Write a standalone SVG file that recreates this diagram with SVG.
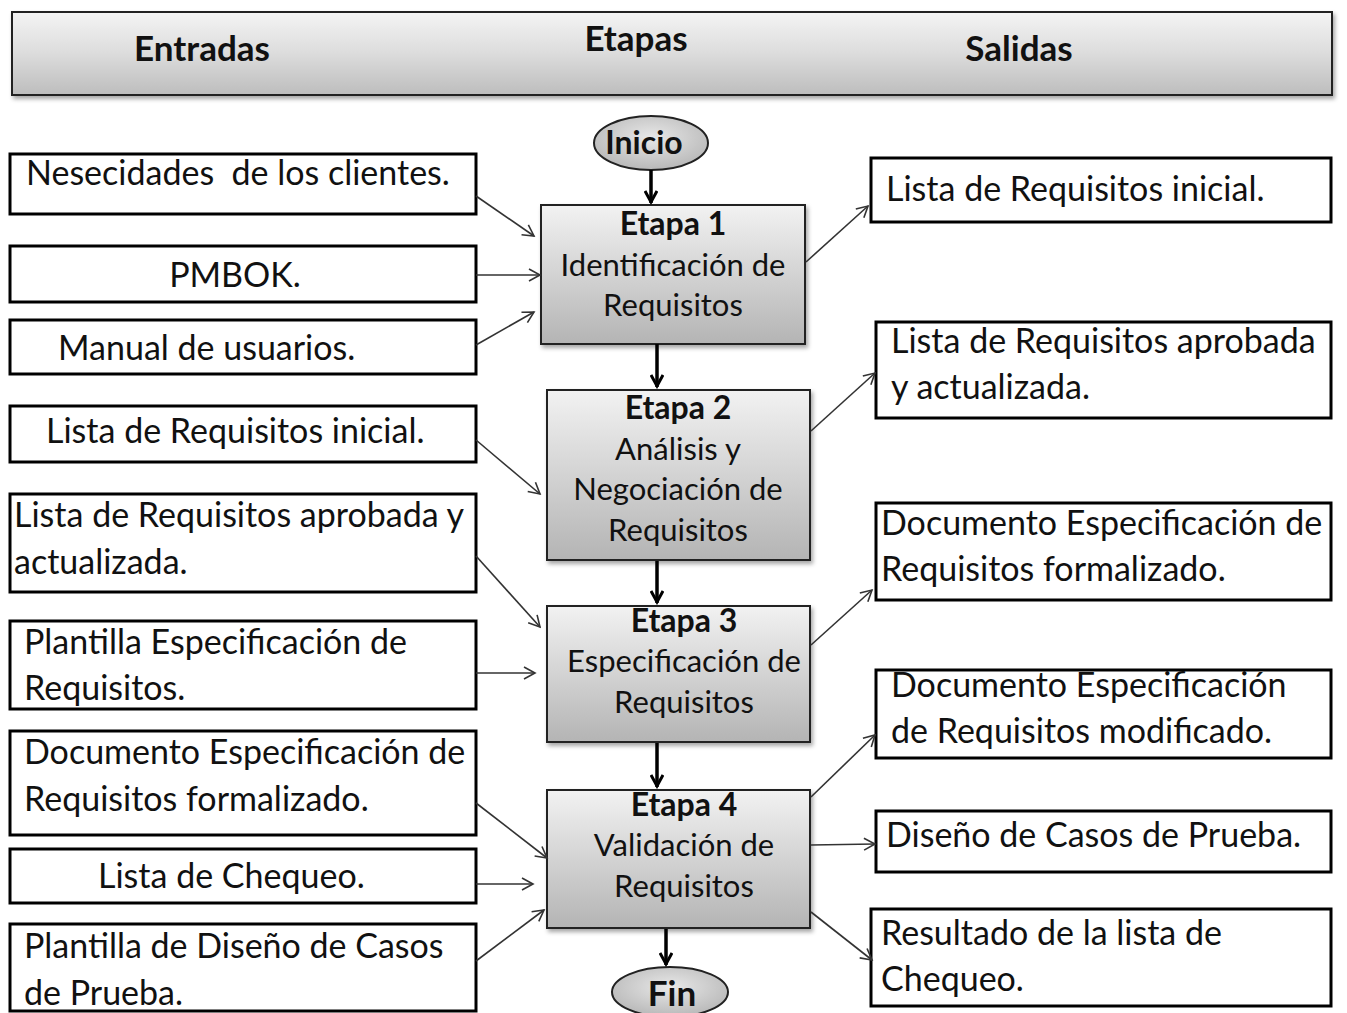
<svg xmlns="http://www.w3.org/2000/svg" width="1347" height="1013" viewBox="0 0 1347 1013">
<defs>
<linearGradient id="gHead" x1="0" y1="0" x2="0" y2="1">
<stop offset="0" stop-color="#f4f4f4"/><stop offset="0.5" stop-color="#dcdcdc"/><stop offset="1" stop-color="#bdbdbd"/>
</linearGradient>
<linearGradient id="gStage" x1="0" y1="0" x2="0" y2="1">
<stop offset="0" stop-color="#f2f2f2"/><stop offset="1" stop-color="#b4b4b4"/>
</linearGradient>
<radialGradient id="gEll" cx="0.5" cy="0.4" r="0.6">
<stop offset="0" stop-color="#e8e8e8"/><stop offset="1" stop-color="#b8b8b8"/>
</radialGradient>
<filter id="sh" x="-10%" y="-10%" width="125%" height="130%">
<feDropShadow dx="2" dy="3" stdDeviation="2" flood-color="#000" flood-opacity="0.35"/>
</filter>
<marker id="open" markerWidth="14" markerHeight="14" refX="12" refY="7" orient="auto" markerUnits="userSpaceOnUse">
<path d="M1,1 L12,7 L1,13" fill="none" stroke="#333" stroke-width="1.6"/>
</marker>
<marker id="thick" markerWidth="16" markerHeight="14" refX="14" refY="7" orient="auto" markerUnits="userSpaceOnUse">
<path d="M2,1 L13,7 L2,13" fill="none" stroke="#000" stroke-width="3"/>
</marker>
</defs>
<style>
text{font-family:Lato,"Open Sans","Liberation Sans",sans-serif;fill:#111;white-space:pre;}
.box{fill:#fff;stroke:#000;stroke-width:3;}
.stage{fill:url(#gStage);stroke:#222;stroke-width:2;filter:url(#sh);}
.t{font-size:31px;}
.bt{font-size:34px;}
.b{font-size:32px;font-weight:bold;}
.h{font-size:35px;font-weight:bold;}
.c{text-anchor:middle;}
.thin{stroke:#333;stroke-width:1.6;fill:none;marker-end:url(#open);}
.flow{stroke:#000;stroke-width:3.5;fill:none;marker-end:url(#thick);}
</style>

<g id="header">
<rect x="12" y="12" width="1320" height="83" fill="url(#gHead)" stroke="#222" stroke-width="2" filter="url(#sh)"/>
<text class="h c" x="202" y="61">Entradas</text>
<text class="h c" x="636" y="51">Etapas</text>
<text class="h c" x="1019" y="61">Salidas</text>
</g>

<g id="inicio">
<ellipse cx="651" cy="143" rx="57" ry="27" fill="url(#gEll)" stroke="#222" stroke-width="2"/>
<text class="b c" x="644" y="154">Inicio</text>
</g>

<g id="etapa1">
<rect class="stage" x="541" y="205" width="264" height="139"/>
<text class="b c" x="673" y="235">Etapa 1</text>
<text class="t c" x="673" y="276">Identificación de</text>
<text class="t c" x="673" y="316">Requisitos</text>
</g>
<g id="etapa2">
<rect class="stage" x="547" y="390" width="263" height="170"/>
<text class="b c" x="678" y="419">Etapa 2</text>
<text class="t c" x="678" y="460">Análisis y</text>
<text class="t c" x="678" y="500">Negociación de</text>
<text class="t c" x="678" y="541">Requisitos</text>
</g>
<g id="etapa3">
<rect class="stage" x="547" y="606" width="263" height="136"/>
<text class="b c" x="684" y="632">Etapa 3</text>
<text class="t c" x="684" y="672">Especificación de</text>
<text class="t c" x="684" y="713">Requisitos</text>
</g>
<g id="etapa4">
<rect class="stage" x="547" y="790" width="263" height="138"/>
<text class="b c" x="684" y="816">Etapa 4</text>
<text class="t c" x="684" y="856">Validación de</text>
<text class="t c" x="684" y="897">Requisitos</text>
</g>
<g id="fin">
<ellipse cx="670" cy="992" rx="58" ry="25" fill="url(#gEll)" stroke="#222" stroke-width="2"/>
<text class="h c" x="672" y="1006">Fin</text>
</g>

<g id="in1"><rect class="box" x="10" y="154" width="466" height="60"/><text class="bt" x="26" y="185">Nesecidades  de los clientes.</text></g>
<g id="in2"><rect class="box" x="10" y="246" width="466" height="56"/><text class="bt c" x="235" y="287">PMBOK.</text></g>
<g id="in3"><rect class="box" x="10" y="320" width="466" height="54"/><text class="bt" x="58" y="360">Manual de usuarios.</text></g>
<g id="in4"><rect class="box" x="10" y="406" width="466" height="56"/><text class="bt" x="46" y="443">Lista de Requisitos inicial.</text></g>
<g id="in5"><rect class="box" x="10" y="494" width="466" height="98"/><text class="bt" x="14" y="527">Lista de Requisitos aprobada y</text><text class="bt" x="14" y="574">actualizada.</text></g>
<g id="in6"><rect class="box" x="10" y="621" width="466" height="88"/><text class="bt" x="24" y="654">Plantilla Especificación de</text><text class="bt" x="24" y="700">Requisitos.</text></g>
<g id="in7"><rect class="box" x="10" y="731" width="466" height="104"/><text class="bt" x="24" y="764">Documento Especificación de</text><text class="bt" x="24" y="811">Requisitos formalizado.</text></g>
<g id="in8"><rect class="box" x="10" y="849" width="466" height="54"/><text class="bt" x="98" y="888">Lista de Chequeo.</text></g>
<g id="in9"><rect class="box" x="10" y="924" width="466" height="87"/><text class="bt" x="24" y="958">Plantilla de Diseño de Casos</text><text class="bt" x="24" y="1005">de Prueba.</text></g>

<g id="out1"><rect class="box" x="871" y="158" width="460" height="64"/><text class="bt" x="886" y="201">Lista de Requisitos inicial.</text></g>
<g id="out2"><rect class="box" x="876" y="322" width="455" height="96"/><text class="bt" x="891" y="353">Lista de Requisitos aprobada</text><text class="bt" x="891" y="399">y actualizada.</text></g>
<g id="out3"><rect class="box" x="876" y="503" width="455" height="97"/><text class="bt" x="881" y="535">Documento Especificación de</text><text class="bt" x="881" y="581">Requisitos formalizado.</text></g>
<g id="out4"><rect class="box" x="876" y="670" width="455" height="88"/><text class="bt" x="891" y="697">Documento Especificación</text><text class="bt" x="891" y="743">de Requisitos modificado.</text></g>
<g id="out5"><rect class="box" x="876" y="811" width="455" height="61"/><text class="bt" x="886" y="847">Diseño de Casos de Prueba.</text></g>
<g id="out6"><rect class="box" x="871" y="909" width="460" height="97"/><text class="bt" x="881" y="945">Resultado de la lista de</text><text class="bt" x="881" y="991">Chequeo.</text></g>

<g id="connectors">
<line class="flow" x1="651" y1="170" x2="651" y2="203"/>
<line class="flow" x1="657" y1="344" x2="657" y2="387"/>
<line class="flow" x1="657" y1="561" x2="657" y2="603"/>
<line class="flow" x1="657" y1="743" x2="657" y2="787"/>
<line class="flow" x1="666" y1="929" x2="666" y2="965"/>
<line class="thin" x1="476" y1="196" x2="534" y2="236"/>
<line class="thin" x1="476" y1="275" x2="540" y2="275"/>
<line class="thin" x1="476" y1="345" x2="534" y2="312"/>
<line class="thin" x1="476" y1="440" x2="540" y2="494"/>
<line class="thin" x1="476" y1="556" x2="540" y2="627"/>
<line class="thin" x1="476" y1="673" x2="535" y2="673"/>
<line class="thin" x1="476" y1="803" x2="547" y2="858"/>
<line class="thin" x1="476" y1="884" x2="533" y2="884"/>
<line class="thin" x1="476" y1="961" x2="544" y2="910"/>
<line class="thin" x1="806" y1="262" x2="868" y2="206"/>
<line class="thin" x1="811" y1="431" x2="875" y2="373"/>
<line class="thin" x1="811" y1="645" x2="872" y2="590"/>
<line class="thin" x1="811" y1="797" x2="875" y2="735"/>
<line class="thin" x1="811" y1="845" x2="875" y2="844"/>
<line class="thin" x1="811" y1="912" x2="872" y2="960"/>
</g>
</svg>
